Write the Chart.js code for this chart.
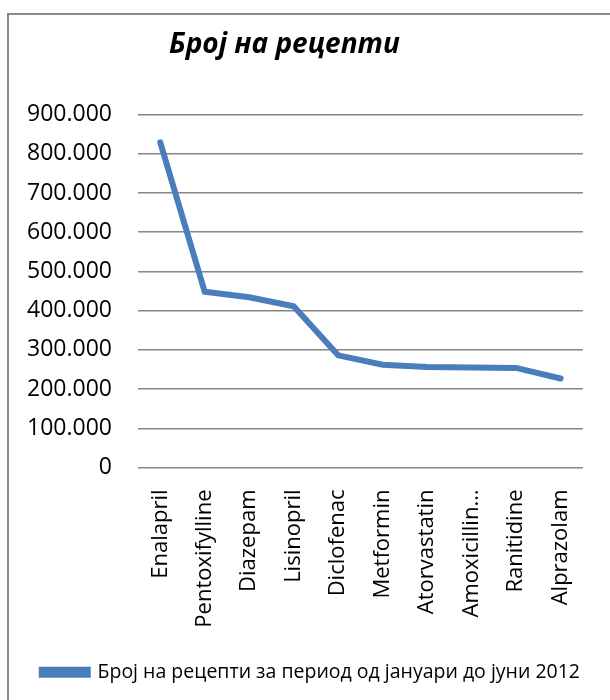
<!DOCTYPE html>
<html>
<head>
<meta charset="utf-8">
<script src="https://cdn.jsdelivr.net/npm/chart.js@4"></script>
<style>
  body { margin: 0; background: #fff; }
  #wrap { position: relative; width: 610px; height: 700px; overflow: hidden; }
  #frame { position: absolute; left: 7px; top: 13px; width: 700px; height: 800px; border: 2px solid #8a8a8a; }
  canvas { position: absolute; left: 0; top: 0; }
</style>
</head>
<body>
<div id="wrap">
  <div id="frame"></div>
  <canvas id="grafico-recepti" width="610" height="700"></canvas>
</div>
<script>
// Број на рецепти по лек (јануари - јуни 2012)
const lekovi = ["Enalapril", "Pentoxifylline", "Diazepam", "Lisinopril", "Diclofenac",
    "Metformin", "Atorvastatin", "Amoxicillin…", "Ranitidine", "Alprazolam"];
const recepti = [829000, 448000, 434000, 411000, 286000, 262000, 256000, 255000, 254000, 227000];
const yMax = 900000;
const yStep = 100000;

const formatBroj = (v) => v.toString().replace(/\B(?=(\d{3})+(?!\d))/g, ".");

const ctx = document.getElementById('grafico-recepti').getContext("2d");
new Chart(ctx, {
    type: "line",
    data: {
        labels: lekovi,
        datasets: [{
            label: "Број на рецепти за период од јануари до јуни 2012",
            data: recepti,
            borderColor: "#4a7ebb",
            backgroundColor: "#4a7ebb",
            borderWidth: 6,
            borderCapStyle: "round",
            pointRadius: 0,
            tension: 0,
            fill: false,
        }]
    },
    options: {
        responsive: false,
        animation: false,
        layout: { padding: { left: 8, right: 20, top: 24, bottom: 8 } },
        plugins: {
            title: {
                display: true,
                // trailing spaces nudge the centred title a bit to the left, like the original
                text: "Број на рецепти\u00a0\u00a0\u00a0\u00a0",
                color: "#000",
                font: { family: "Open Sans", size: 28, weight: "bold", style: "italic" },
                padding: { top: 4, bottom: 53 },
            },
            legend: {
                position: "bottom",
                align: "end",
                labels: {
                    color: "#000",
                    boxWidth: 46,
                    boxHeight: 5,
                    padding: 10,
                    font: { family: "Open Sans", size: 19.5 },
                },
            },
            tooltip: { enabled: false },
        },
        scales: {
            x: {
                offset: true,
                afterFit: (s) => { s.height = 185; },
                grid: { display: false, drawTicks: false },
                border: { display: false },
                ticks: {
                    color: "#000",
                    minRotation: 90,
                    maxRotation: 90,
                    autoSkip: false,
                    padding: 22,
                    font: { family: "Open Sans", size: 22 },
                },
            },
            y: {
                min: 0,
                max: yMax,
                afterFit: (s) => { s.width = 130; },
                grid: { color: "#868686", lineWidth: 1.5, drawTicks: false },
                border: { display: false },
                ticks: {
                    stepSize: yStep,
                    color: "#000",
                    padding: 26,
                    font: { family: "Open Sans", size: 23 },
                    callback: (v) => formatBroj(v),
                },
            },
        },
    },
});
</script>
</body>
</html>
